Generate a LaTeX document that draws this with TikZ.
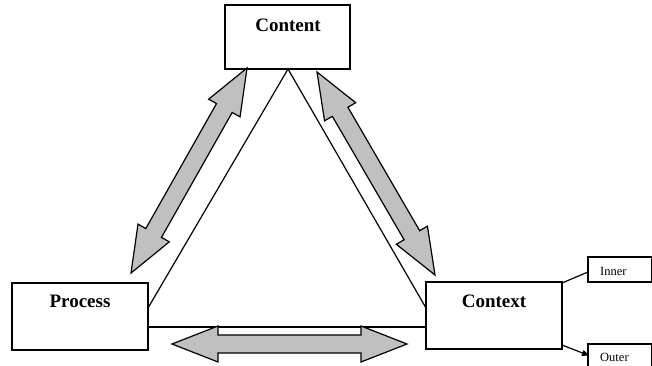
\documentclass[tikz,border=0pt]{standalone}
\usepackage{fontspec}
\setmainfont{Liberation Serif}
\usetikzlibrary{calc,arrows.meta}
\definecolor{arrowgray}{HTML}{C0C0C0}
\tikzset{
  box/.style={draw=black, line width=1.6pt, fill=white, inner sep=0pt},
  bigtext/.style={font=\fontsize{19}{22}\selectfont\bfseries, anchor=base, inner sep=0pt},
  smalltext/.style={font=\fontsize{12.5}{14}\selectfont, anchor=base west, inner sep=0pt},
  thinline/.style={draw=black, line width=1.2pt},
  grayarrow/.style={fill=arrowgray, draw=black, line width=1.2pt, line join=miter},
}
\newcommand\grayarrow[2]{%
  \filldraw[grayarrow] (#1)
    -- ($(#1)!46pt!(#2)!18pt!90:(#2)$) -- ($(#1)!46pt!(#2)!9pt!90:(#2)$)
    -- ($(#2)!46pt!(#1)!9pt!-90:(#1)$) -- ($(#2)!46pt!(#1)!18pt!-90:(#1)$)
    -- (#2)
    -- ($(#2)!46pt!(#1)!18pt!90:(#1)$) -- ($(#2)!46pt!(#1)!9pt!90:(#1)$)
    -- ($(#1)!46pt!(#2)!9pt!-90:(#2)$) -- ($(#1)!46pt!(#2)!18pt!-90:(#2)$)
    -- cycle;}
\begin{document}
\begin{tikzpicture}[x=1pt,y=-1pt]
\useasboundingbox (0,0) rectangle (652,366);
\clip (0,0) rectangle (652,366);
% boxes
\node[box, minimum width=125pt, minimum height=64pt] (content) at (287.5,37) {};
\node[box, minimum width=136pt, minimum height=67pt] (process) at (80,316.5) {};
\node[box, minimum width=136pt, minimum height=67pt] (context) at (494,315.5) {};
\node[box, minimum width=64pt, minimum height=25pt] (inner) at (620,269.5) {};
\node[box, minimum width=64pt, minimum height=40pt] (outer) at (620,364) {};
% texts
\node[bigtext] (contentT) at (288,32) {Content};
\node[bigtext] (processT) at (80,307) {Process};
\node[bigtext] (contextT) at (494,307) {Context};
\node[smalltext] (innerT) at (600,275) {Inner};
\node[smalltext] (outerT) at (600,361.5) {Outer};
% triangle
\coordinate (apex) at (288,69);
\coordinate (pL) at (148,308);
\coordinate (cL) at (426,308);
\coordinate (pB) at (148,327);
\coordinate (cB) at (426,327);
\draw[thinline] (pL) -- (apex) -- (cL);
\draw[thinline] (pB) -- (cB);
% side links
\coordinate (ci) at (562,283);
\coordinate (ii) at (588,272);
\coordinate (co) at (562,345);
\coordinate (oo) at (589,355.5);
\draw[thinline] (ci) -- (ii);
\draw[thinline, -{Triangle[length=7pt,width=6pt]}] (co) -- (oo);
% gray double arrows
\coordinate (a1) at (247,68);
\coordinate (a2) at (131,273);
\coordinate (b1) at (317,72);
\coordinate (b2) at (435,275);
\coordinate (c1) at (172,344);
\coordinate (c2) at (407,344);
\grayarrow{a1}{a2}
\grayarrow{b1}{b2}
\grayarrow{c1}{c2}
\end{tikzpicture}
\end{document}
